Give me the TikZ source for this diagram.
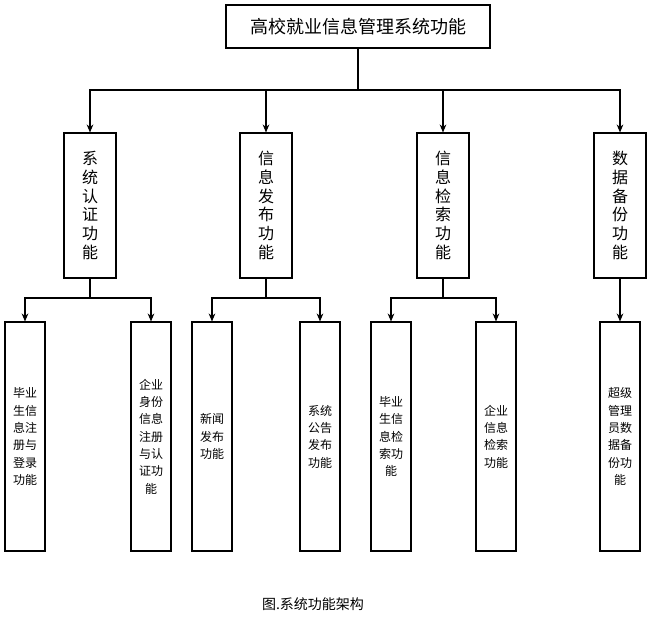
\documentclass[tikz,border=0pt]{standalone}
\usepackage{fontspec}
\setmainfont{Noto Sans CJK SC}
\usetikzlibrary{arrows.meta}
\tikzset{
  topbox/.style={draw,thick,minimum width=264*0.75pt,minimum height=43*0.75pt,inner sep=0pt,font=\fontsize{13.5}{16}\selectfont},
  midbox/.style={draw,thick,minimum width=52*0.75pt,minimum height=145*0.75pt,inner sep=0pt,align=center,font=\fontsize{12}{14}\selectfont},
  leafbox/.style={draw,thick,minimum width=40*0.75pt,minimum height=229*0.75pt,inner sep=0pt,align=center,font=\fontsize{9}{13}\selectfont},
  conn/.style={thick,-{Stealth[length=6pt,width=5pt]}}
}
\begin{document}
\begin{tikzpicture}[x=0.75pt,y=-0.75pt]
\useasboundingbox (0,0) rectangle (660,639);
\node[topbox](TOP) at (358,26.5){高校就业信息管理系统功能};
% second level
\node[midbox](AUTH) at (90,205.5){系\\统\\认\\证\\功\\能};
\node[midbox](PUB) at (266,205.5){信\\息\\发\\布\\功\\能};
\node[midbox](SRCH) at (443,205.5){信\\息\\检\\索\\功\\能};
\node[midbox](BAK) at (620,205.5){数\\据\\备\\份\\功\\能};
% third level
\node[leafbox](L1) at (25,436.5){毕业\\生信\\息注\\册与\\登录\\功能};
\node[leafbox](L2) at (151,436.5){企业\\身份\\信息\\注册\\与认\\证功\\能};
\node[leafbox](L3) at (212,436.5){新闻\\发布\\功能};
\node[leafbox](L4) at (320,436.5){系统\\公告\\发布\\功能};
\node[leafbox](L5) at (391,436.5){毕业\\生信\\息检\\索功\\能};
\node[leafbox](L6) at (496,436.5){企业\\信息\\检索\\功能};
\node[leafbox](L7) at (620,436.5){超级\\管理\\员数\\据备\\份功\\能};
% connectors
\coordinate (J0) at (358,90);
\draw[thick] (TOP.south) -- (J0);
\foreach \n in {AUTH,PUB,SRCH,BAK} \draw[conn] (J0) -| (\n.north);
\coordinate (J1) at (90,298);
\draw[thick] (AUTH.south) -- (J1);
\draw[conn] (J1) -| (L1.north);
\draw[conn] (J1) -| (L2.north);
\coordinate (J2) at (266,298);
\draw[thick] (PUB.south) -- (J2);
\draw[conn] (J2) -| (L3.north);
\draw[conn] (J2) -| (L4.north);
\coordinate (J3) at (443,298);
\draw[thick] (SRCH.south) -- (J3);
\draw[conn] (J3) -| (L5.north);
\draw[conn] (J3) -| (L6.north);
\draw[conn] (BAK.south) -- (L7.north);
\node[font=\fontsize{10.5}{12}\selectfont](CAP) at (313,604){图.系统功能架构};
\end{tikzpicture}
\end{document}
